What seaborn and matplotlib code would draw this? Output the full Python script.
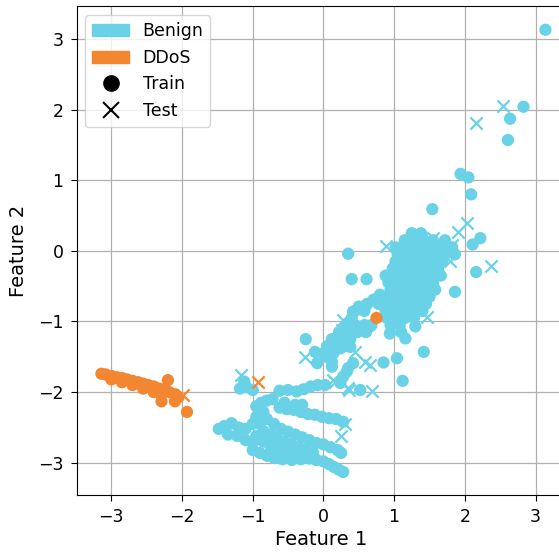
import matplotlib
matplotlib.use("Agg")
import matplotlib.pyplot as plt
from matplotlib.patches import Patch
from matplotlib.lines import Line2D
import seaborn as sns
import pandas as pd

# ---------------- data ----------------
benign_train = [
    # isolated upper points
    (3.14, 3.13), (2.83, 2.04), (2.64, 1.87), (2.61, 1.57), (1.94, 1.09), (2.05, 1.04),
    (2.09, 0.80), (1.54, 0.59), (2.22, 0.18), (2.11, 0.09), (2.16, -0.30), (1.86, -0.58),
    (1.39, 0.23), (1.13, 0.03), (0.35, -0.04), (0.40, -0.40), (0.61, -0.40),
    # upper dense blob
    (1.25, 0.25), (1.38, 0.25),
    (1.15, 0.15), (1.28, 0.15), (1.42, 0.15), (1.55, 0.15), (1.72, 0.15),
    (1.02, 0.05), (1.15, 0.05), (1.28, 0.05), (1.42, 0.05), (1.55, 0.05), (1.68, 0.05), (1.82, 0.05),
    (1.05, -0.05), (1.18, -0.05), (1.32, -0.05), (1.45, -0.05), (1.58, -0.05), (1.72, -0.05), (1.86, -0.05),
    (1.02, -0.15), (1.15, -0.15), (1.28, -0.15), (1.42, -0.15), (1.55, -0.15), (1.68, -0.15),
    (0.98, -0.25), (1.10, -0.25), (1.22, -0.25), (1.35, -0.25), (1.48, -0.25), (1.62, -0.25),
    (0.88, -0.35), (1.00, -0.35), (1.12, -0.35), (1.25, -0.35), (1.38, -0.35), (1.52, -0.35), (1.66, -0.35),
    (0.92, -0.45), (1.05, -0.45), (1.18, -0.45), (1.30, -0.45), (1.42, -0.45), (1.55, -0.45),
    (0.95, -0.55), (1.08, -0.55), (1.20, -0.55), (1.32, -0.55), (1.45, -0.55), (1.58, -0.55),
    (0.82, -0.65), (0.98, -0.65), (1.10, -0.65), (1.22, -0.65), (1.35, -0.65), (1.50, -0.65),
    (0.62, -0.75), (0.78, -0.75), (0.92, -0.75), (1.05, -0.75), (1.18, -0.75), (1.30, -0.75), (1.45, -0.75),
    (0.45, -0.85), (0.58, -0.85), (0.88, -0.85), (1.00, -0.85), (1.12, -0.85), (1.25, -0.85), (1.40, -0.85),
    (0.40, -0.95), (0.90, -0.95), (1.02, -0.95), (1.15, -0.95), (1.28, -0.95),
    (0.32, -1.05), (0.45, -1.05), (0.58, -1.05), (0.68, -1.05), (0.95, -1.05), (1.08, -1.05),
    (0.22, -1.15), (0.35, -1.15), (0.48, -1.15), (0.60, -1.15), (1.10, -1.15),
    (0.12, -1.25), (0.25, -1.25), (0.38, -1.25),
    (0.05, -1.35), (0.18, -1.35), (0.30, -1.35),
    (0.00, -1.45), (0.12, -1.45),
    # middle isolated / band
    (1.42, -1.43), (1.12, -1.84), (1.04, -1.52), (0.85, -1.58), (1.30, -1.07), (1.16, -1.24), (0.94, -1.17),
    (0.50, -0.79), (0.61, -0.76), (0.80, -0.62), (0.42, -0.86), (0.71, -0.69),
    (0.05, -1.50), (0.09, -1.38), (0.19, -1.31), (0.28, -1.24), (0.38, -1.17), (0.47, -1.12),
    (0.57, -1.09), (0.66, -1.07), (0.24, -1.38), (0.38, -1.36), (0.14, -1.45), (0.12, -1.64),
    (-0.25, -1.25), (-0.12, -1.43), (-0.09, -1.59), (0.35, -1.66), (0.42, -1.59), (0.24, -1.87),
    (0.52, -1.97), (0.28, -1.78), (0.12, -1.57), (0.33, -1.71),
    # row near y = -2
    (-0.62, -1.98), (-0.50, -1.97), (-0.38, -1.99), (-0.28, -1.96), (-0.18, -1.92), (-0.08, -1.90), (0.02, -1.90),
    (-1.09, -1.93), (-1.18, -1.95), (-1.00, -1.97), (-1.12, -1.85),
    # lower cluster: left lobe
    (-1.48, -2.52), (-1.40, -2.48), (-1.30, -2.44), (-1.20, -2.50), (-1.10, -2.52),
    (-1.35, -2.60), (-1.22, -2.62), (-1.10, -2.68), (-1.00, -2.72),
    (-0.95, -2.20), (-0.88, -2.15), (-0.80, -2.12), (-0.72, -2.10), (-0.85, -2.28),
    (-0.95, -2.35), (-1.00, -2.45), (-0.90, -2.45),
    # stripe A
    (-0.62, -2.22), (-0.52, -2.24), (-0.42, -2.25), (-0.32, -2.28), (-0.22, -2.31), (-0.12, -2.32),
    (-0.02, -2.35), (0.08, -2.37), (0.18, -2.38), (0.28, -2.42), (-0.55, -2.15), (-0.40, -2.18), (-0.30, -2.18),
    # stripe B
    (-0.80, -2.38), (-0.70, -2.45), (-0.60, -2.52), (-0.50, -2.56), (-0.40, -2.60), (-0.30, -2.64),
    (-0.20, -2.68), (-0.10, -2.72), (0.00, -2.74), (0.10, -2.78), (0.20, -2.82), (0.25, -2.86),
    # between B and C
    (-0.85, -2.55), (-0.75, -2.60), (-0.65, -2.66), (-0.55, -2.70), (-0.45, -2.74), (-0.35, -2.78),
    (-0.25, -2.82), (-0.15, -2.85), (-0.95, -2.62), (-0.85, -2.70), (-0.75, -2.76), (-0.65, -2.80),
    (-0.55, -2.84), (-0.45, -2.87), (-0.35, -2.90),
    # stripe C
    (-1.00, -2.82), (-0.90, -2.86), (-0.80, -2.90), (-0.70, -2.93), (-0.58, -2.95), (-0.45, -2.96),
    (-0.32, -2.95), (-0.20, -2.94), (-0.10, -2.96), (0.00, -2.98), (0.08, -3.02), (0.15, -3.06),
    (0.22, -3.10), (0.28, -3.13),
]

benign_test = [
    (2.54, 2.05), (2.16, 1.81), (2.03, 0.39), (1.90, 0.27), (1.55, 0.18), (0.89, 0.07),
    (1.82, 0.08), (2.37, -0.21), (1.79, -0.15), (1.27, -0.55), (1.46, -0.93),
    (0.28, -0.98), (0.26, -1.12), (-0.26, -1.50), (0.17, -1.85), (0.36, -1.97),
    (0.45, -1.43), (0.59, -1.57), (0.66, -1.61), (0.14, -1.83), (0.35, -1.94), (0.69, -1.99),
    (-1.16, -1.76), (0.30, -2.45), (0.25, -2.62),
]

ddos_train = [
    (-3.14, -1.74), (-3.08, -1.75), (-3.00, -1.77), (-2.92, -1.79), (-2.85, -1.80), (-2.78, -1.82),
    (-2.70, -1.84), (-2.62, -1.86), (-2.55, -1.88), (-2.48, -1.90), (-2.40, -1.92), (-2.32, -1.95),
    (-2.25, -1.97), (-2.18, -2.00), (-2.10, -2.03), (-2.05, -2.07),
    (-3.00, -1.82), (-2.85, -1.86), (-2.70, -1.90), (-2.55, -1.95), (-2.40, -2.00), (-2.30, -2.03),
    (-2.20, -1.83), (-2.29, -2.13), (-2.10, -2.13), (-1.93, -2.28),
    (0.75, -0.95),
]

ddos_test = [(-0.93, -1.85), (-1.98, -2.04)]

class_names = ["Benign", "DDoS"]
split_names = ["Train", "Test"]
x_label = "Feature 1"
y_label = "Feature 2"
ticks = [-3, -2, -1, 0, 1, 2, 3]

# ---------------- styling ----------------
palette = {"Benign": "#69D2E7", "DDoS": "#F38630"}

rows = []
for cls, split, pts in [("Benign", "Train", benign_train), ("Benign", "Test", benign_test),
                        ("DDoS", "Train", ddos_train), ("DDoS", "Test", ddos_test)]:
    for x, y in pts:
        rows.append({"x": x, "y": y, "label": cls, "split": split})
df = pd.DataFrame(rows)

fig = plt.figure(figsize=(5.59, 5.52), dpi=100)
ax = fig.add_axes([0.1372, 0.1033, 0.8739, 0.885])
ax.set_axisbelow(True)
ax.grid(True, color="#b0b0b0", linewidth=0.9)

for cls in class_names:
    for split in split_names:
        sub = df[(df.label == cls) & (df.split == split)]
        if split == "Train":
            sns.scatterplot(x=sub.x, y=sub.y, color=palette[cls], marker="o", s=78,
                            linewidth=0, edgecolor="none", ax=ax, legend=False)
        else:
            sns.scatterplot(x=sub.x, y=sub.y, color=palette[cls], marker="x", s=78,
                            linewidth=1.6, ax=ax, legend=False)

ax.set_xlim(-3.49, 3.42)
ax.set_ylim(-3.456, 3.46)
ax.set_xticks(ticks)
ax.set_yticks(ticks)
ax.tick_params(labelsize=12.5, length=4.5, pad=5)
ax.set_xlabel(x_label, fontsize=14, labelpad=3)
ax.set_ylabel(y_label, fontsize=14, labelpad=7.5)

handles = [
    Patch(color=palette["Benign"], label="Benign"),
    Patch(color=palette["DDoS"], label="DDoS"),
    Line2D([], [], marker="o", color="black", linestyle="None", markersize=11, label="Train"),
    Line2D([], [], marker="x", color="black", linestyle="None", markersize=11,
           markeredgewidth=1.5, label="Test"),
]
ax.legend(handles=handles, loc="upper left", fontsize=12.5, handlelength=2.1)

fig.savefig("out.png", dpi=100)
